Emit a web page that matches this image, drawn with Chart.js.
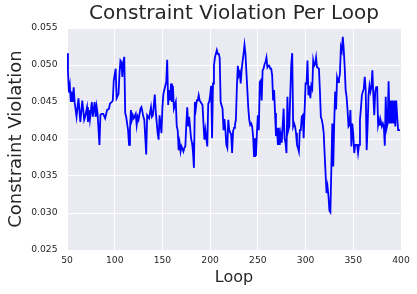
<!DOCTYPE html>
<html>
<head>
<meta charset="utf-8">
<script src="https://cdn.jsdelivr.net/npm/chart.js@4/dist/chart.umd.min.js"></script>
<style>
  html, body { margin: 0; padding: 0; background: #ffffff; }
  #wrap { width: 417px; height: 294px; }
</style>
</head>
<body>
<div id="wrap"><canvas id="lineChart" width="417" height="294"></canvas></div>
<script>
// values
const loops = [50,51,52,53,54,55,56,57,58,60,62,64,66,68,69,71,72,73,74,76,77,79,80,81,82,84,85,86,88,90,92,94,95,97,98,99,
  101,102,104,105,106,107,108,109,110,111,112,114,115,116,117,118,119,120,122,123,124,125,127,128,129,130,131,133,134,136,138,139,140,142,143,145,146,147,149,
  150,151,153,154,155,156,157,158,159,160,161,162,164,165,166,167,168,169,170,172,173,174,175,176,177,178,180,181,182,183,184,185,186,187,188,189,190,192,193,194,195,196,197,198,199,
  200,201,202,203,204,205,206,207,208,209,210,211,213,214,215,216,217,218,219,220,222,223,224,225,226,227,228,229,230,231,232,233,234,235,236,237,238,239,240,241,242,243,244,245,246,247,248,249,
  250,251,252,253,254,255,256,257,258,259,260,261,262,263,264,265,266,267,268,269,270,271,272,273,274,275,277,278,279,280,281,282,283,284,285,286,287,288,289,290,291,292,293,294,295,296,297,298,299,
  300,301,302,303,304,305,306,307,308,309,310,311,312,313,314,315,316,317,318,319,320,321,322,323,324,325,326,327,328,329,330,331,332,333,334,335,336,337,338,339,340,341,342,343,344,345,346,347,348,349,
  350,351,352,353,354,355,356,357,358,359,360,361,362,363,364,365,366,367,368,369,370,371,372,373,374,375,376,377,378,379,380,381,382,383,384,385,386,387,388,389,390,391,392,393,394,395,396,397,398,399];

const violation = [.0516,.0492,.0463,.0472,.0450,.0464,.0450,.0470,.0450,.0430,.0455,.0423,.0452,.0426,.0430,.0443,.0423,.0439,.0426,.0450,.0430,.0450,.0430,.0444,.0435,.0392,.0432,.0434,.0434,.0428,.0439,.0441,.0448,.0450,.0452,.0479,
  .0495,.0455,.0461,.0488,.0506,.0504,.0484,.0504,.0511,.0435,.0430,.0412,.0392,.0412,.0439,.0426,.0432,.0428,.0434,.0419,.0430,.0426,.0441,.0443,.0437,.0430,.0426,.0379,.0432,.0428,.0443,.0430,.0432,.0460,.0437,.0408,.0399,.0432,.0408,
  .0443,.0461,.0472,.0477,.0507,.0446,.0466,.0452,.0475,.0450,.0472,.0441,.0450,.0417,.0412,.0385,.0395,.0383,.0390,.0383,.0388,.0390,.0419,.0443,.0417,.0430,.0401,.0395,.0383,.0361,.0450,.0441,.0452,.0452,.0459,.0452,.0450,.0446,.0421,.0399,.0412,.0401,.0390,.0448,.0450,
  .0459,.0472,.0401,.0475,.0499,.0510,.0515,.0520,.0515,.0515,.0510,.0450,.0441,.0412,.0427,.0412,.0392,.0388,.0426,.0412,.0406,.0381,.0410,.0415,.0419,.0426,.0470,.0499,.0486,.0490,.0475,.0493,.0505,.0515,.0527,.0515,.0490,.0466,.0441,.0426,.0419,.0421,.0417,.0404,.0377,.0401,.0377,.0408,
  .0432,.0412,.0477,.0479,.0452,.0493,.0495,.0501,.0504,.0510,.0497,.0499,.0499,.0495,.0495,.0486,.0452,.0466,.0435,.0404,.0415,.0392,.0415,.0392,.0406,.0395,.0441,.0401,.0395,.0381,.0457,.0412,.0417,.0461,.0501,.0516,.0417,.0421,.0417,.0408,.0392,.0388,.0383,.0412,.0412,.0430,.0432,.0401,.0439,
  .0475,.0475,.0506,.0459,.0472,.0455,.0472,.0468,.0506,.0499,.0501,.0510,.0497,.0497,.0495,.0466,.0430,.0426,.0419,.0408,.0379,.0352,.0327,.0336,.0323,.0303,.0301,.0359,.0421,.0363,.0421,.0464,.0440,.0483,.0477,.0481,.0488,.0524,.0519,.0538,.0521,.0497,.0466,.0457,.0439,.0417,.0419,.0439,.0390,.0421,
  .0406,.0381,.0392,.0392,.0392,.0381,.0392,.0426,.0441,.0459,.0464,.0468,.0484,.0466,.0385,.0417,.0459,.0472,.0464,.0470,.0493,.0459,.0432,.0464,.0470,.0470,.0419,.0426,.0419,.0423,.0417,.0421,.0417,.0391,.0457,.0415,.0421,.0478,.0421,.0452,.0421,.0452,.0421,.0452,.0417,.0452,.0430,.0412,.0412,.0412];

const xTicks = [50, 100, 150, 200, 250, 300, 350, 400];
const yTicks = [0.025, 0.030, 0.035, 0.040, 0.045, 0.050, 0.055];

const textColor = '#262626';
const fontFamily = '"DejaVu Sans", sans-serif';

// light grey plot background like seaborn darkgrid
const plotBg = {
    id: 'plotBg',
    beforeDraw(chart) {
        const a = chart.chartArea;
        const ctx = chart.ctx;
        ctx.save();
        ctx.fillStyle = '#EAEAF2';
        ctx.fillRect(a.left, a.top, a.right - a.left, a.bottom - a.top);
        ctx.restore();
    }
};

const points = loops.map((l, i) => ({ x: l, y: violation[i] }));

const line = document.getElementById('lineChart');
const lineChart = new Chart(line, {
    type: 'line',
    data: {
        datasets: [{
            label: 'Constraint Violation',
            data: points,
            borderColor: '#0000ff',
            borderWidth: 1.8,
            pointRadius: 0,
            tension: 0,
            fill: false
        }]
    },
    options: {
        responsive: false,
        devicePixelRatio: 1,
        animation: false,
        layout: { padding: { left: 0, right: 16, top: 0, bottom: 0 } },
        plugins: {
            legend: { display: false },
            tooltip: { enabled: false },
            title: {
                display: true,
                text: 'Constraint Violation Per Loop',
                color: textColor,
                fullSize: false,
                font: { family: fontFamily, size: 20, weight: 'normal' },
                padding: { top: 2, bottom: 2 }
            }
        },
        scales: {
            x: {
                type: 'linear',
                min: 50,
                max: 400,
                afterBuildTicks: s => { s.ticks = xTicks.map(v => ({ value: v })); },
                afterFit: s => { s.height = 44; },
                grid: { color: '#ffffff', lineWidth: 1, drawTicks: false },
                border: { display: false },
                ticks: { color: textColor, padding: 5, maxRotation: 0, font: { family: fontFamily, size: 9.2 } },
                title: {
                    display: true,
                    text: 'Loop',
                    color: textColor,
                    font: { family: fontFamily, size: 16 },
                    padding: { top: 0, bottom: 7 }
                }
            },
            y: {
                min: 0.025,
                max: 0.055,
                afterBuildTicks: s => { s.ticks = yTicks.map(v => ({ value: v })); },
                afterFit: s => { s.width = 67; },
                grid: { color: '#ffffff', lineWidth: 1, drawTicks: false },
                border: { display: false },
                ticks: {
                    color: textColor,
                    padding: 9.5,
                    font: { family: fontFamily, size: 9.2 },
                    callback: v => v.toFixed(3)
                },
                title: {
                    display: true,
                    text: 'Constraint Violation',
                    color: textColor,
                    font: { family: fontFamily, size: 18 },
                    padding: { top: 6, bottom: 0 }
                }
            }
        }
    },
    plugins: [plotBg]
});
</script>
</body>
</html>
